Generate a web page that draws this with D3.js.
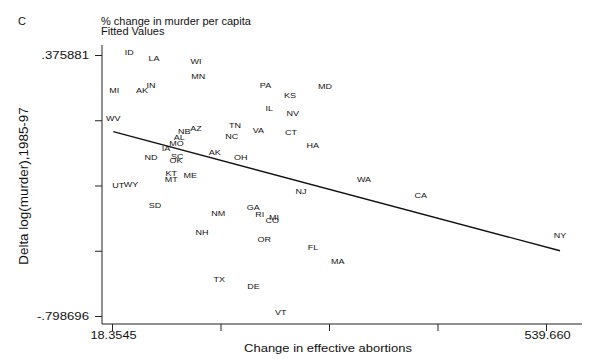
<!DOCTYPE html>
<html>
<head>
<meta charset="utf-8">
<script src="https://cdn.jsdelivr.net/npm/d3@7/dist/d3.min.js"></script>
<style>
  html, body { margin: 0; padding: 0; background: #fff; }
  svg { display: block; font-family: "Liberation Sans", Arial, sans-serif; }
</style>
</head>
<body>
<svg id="chart" width="600" height="359"></svg>
<script>
// ---- data ----
const states = ["ID","LA","WI","MN","MI","AK","IN","PA","KS","MD","IL","NV","WV","TN","VA","CT","NB","AZ","NC","AL","MO","HA","IA","AK","OH","ND","SC","OK","KT","MT","ME","UT","WY","WA","NJ","CA","SD","NM","GA","RI","MI","CO","NH","OR","FL","MA","NY","TX","DE","VT"];
const abortions = [39.1,68.8,119.3,122.0,21.1,54.4,65.2,202.7,232.2,274.2,207.3,235.4,19.9,166.1,194.1,233.4,105.2,119.3,162.1,99.2,95.8,259.4,83.2,141.7,173.0,65.2,96.8,95.2,89.6,89.6,112.4,25.9,41.2,321.1,245.4,389.2,70.0,146.0,188.1,195.8,213.0,210.9,126.5,201.3,259.8,289.5,556.5,147.2,188.3,221.0];
const murder = [0.388,0.361,0.346,0.281,0.218,0.218,0.241,0.241,0.196,0.236,0.136,0.113,0.091,0.059,0.035,0.026,0.031,0.046,0.008,0.0055,-0.0215,-0.029,-0.046,-0.063,-0.0845,-0.0845,-0.082,-0.100,-0.156,-0.182,-0.164,-0.209,-0.205,-0.186,-0.237,-0.257,-0.302,-0.336,-0.308,-0.341,-0.353,-0.367,-0.421,-0.453,-0.489,-0.551,-0.434,-0.633,-0.664,-0.784];
const fitX = [19.9, 556.5];
const fitY = [0.031, -0.505];
const xMin = 18.3545, xMax = 539.66;
const yMin = -0.798696, yMax = 0.375881;
const xTickLabels = ["18.3545", "", "", "", "539.660"];
const yTickLabels = ["-.798696", "", "", "", ".375881"];
const titleLines = ["% change in murder per capita", "Fitted Values"];
const panelLetter = "C";
const xTitle = "Change in effective abortions";
const yTitle = "Delta log(murder),1985-97";

// ---- layout ----
const svg = d3.select("#chart");
const x = d3.scaleLinear().domain([xMin, xMax]).range([112, 546]);
const y = d3.scaleLinear().domain([yMin, yMax]).range([316, 55]);
const axisX0 = 102, axisY0 = 324;

const xTicks = d3.range(5).map(i => xMin + i * (xMax - xMin) / 4);
const yTicks = d3.range(5).map(i => yMin + i * (yMax - yMin) / 4);

// axes lines
svg.append("line").attr("x1", axisX0).attr("x2", axisX0).attr("y1", 45).attr("y2", axisY0)
  .attr("stroke", "#222").attr("stroke-width", 1);
svg.append("line").attr("x1", axisX0).attr("x2", 582).attr("y1", axisY0).attr("y2", axisY0)
  .attr("stroke", "#222").attr("stroke-width", 1);

// y axis
const gy = svg.append("g").attr("transform", `translate(${axisX0},0)`)
  .call(d3.axisLeft(y).tickValues(yTicks).tickSize(7).tickSizeOuter(0)
    .tickFormat((d, i) => yTickLabels[i]));
gy.select(".domain").remove();
gy.selectAll(".tick line").attr("stroke", "#222");
gy.selectAll(".tick text")
  .attr("x", null).attr("dy", "0.36em")
  .attr("transform", "translate(-13,0) scale(1.32,1)")
  .attr("font-size", 10).attr("fill", "#111")
  .attr("font-family", "Liberation Sans, Arial, sans-serif");

// x axis
const gx = svg.append("g").attr("transform", `translate(0,${axisY0})`)
  .call(d3.axisBottom(x).tickValues(xTicks).tickSize(7).tickSizeOuter(0)
    .tickFormat((d, i) => xTickLabels[i]));
gx.select(".domain").remove();
gx.selectAll(".tick line").attr("stroke", "#222");
gx.selectAll(".tick text")
  .attr("y", null).attr("dy", null)
  .attr("transform", "translate(1,15) scale(1.28,1)")
  .attr("font-size", 10).attr("fill", "#111")
  .attr("font-family", "Liberation Sans, Arial, sans-serif");

// fitted line
svg.append("path")
  .datum(fitX.map((d, i) => [d, fitY[i]]))
  .attr("d", d3.line().x(d => x(d[0])).y(d => y(d[1])))
  .attr("fill", "none").attr("stroke", "#111").attr("stroke-width", 1.4);

// state labels
svg.append("g").selectAll("text")
  .data(states.map((s, i) => ({ s, xv: abortions[i], yv: murder[i] })))
  .join("text")
  .attr("transform", d => `translate(${x(d.xv)},${y(d.yv)}) scale(1.25,1)`)
  .attr("text-anchor", "middle").attr("dy", "0.36em")
  .attr("font-size", 7.2).attr("fill", "#111")
  .text(d => d.s);

// titles
svg.append("text").attr("x", 18).attr("y", 24.5).attr("font-size", 11).attr("fill", "#111").text(panelLetter);
svg.append("text").attr("x", 101).attr("y", 24.5).attr("font-size", 11).attr("fill", "#111").text(titleLines[0]);
svg.append("text").attr("x", 101).attr("y", 35).attr("font-size", 11).attr("fill", "#111").text(titleLines[1]);

// axis titles
svg.append("text")
  .attr("transform", "translate(328,352) scale(1.12,1)")
  .attr("text-anchor", "middle").attr("font-size", 11.6).attr("fill", "#111")
  .text(xTitle);
svg.append("text")
  .attr("transform", "translate(28,186) rotate(-90) scale(1.12,1)")
  .attr("text-anchor", "middle").attr("font-size", 12).attr("fill", "#111")
  .text(yTitle);
</script>
</body>
</html>
